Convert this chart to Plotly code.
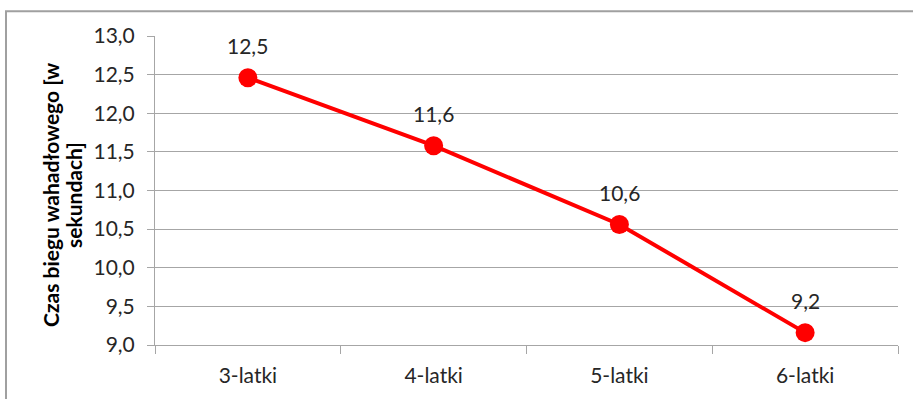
import plotly.graph_objects as go

# Shuttle-run time by age group
age_groups = ["3-latki", "4-latki", "5-latki", "6-latki"]
run_time_s = [12.46, 11.58, 10.56, 9.16]

y_ticks = [9.0, 9.5, 10.0, 10.5, 11.0, 11.5, 12.0, 12.5, 13.0]
y_title_lines = ["Czas biegu wahadłowego [w", "sekundach]"]

W, H = 913, 399
L, R, T, B = 155, 15, 36, 52
plot_w = W - L - R
plot_h = H - T - B

FONT = "Lato, Calibri, Carlito, sans-serif"
FS = 21
GRID = "#a6a6a6"
RED = "#ff0000"
TXT = "#262626"

fig = go.Figure()
fig.add_trace(go.Scatter(
    x=age_groups,
    y=run_time_s,
    mode="lines+markers",
    line=dict(color=RED, width=4),
    marker=dict(color=RED, size=19),
    cliponaxis=False,
    hoverinfo="skip",
))

# Value labels above each point
for cat, val in zip(age_groups, run_time_s):
    fig.add_annotation(
        x=cat, y=val, text=f"{val:.1f}".replace(".", ","),
        showarrow=False, yshift=32, yanchor="middle",
        font=dict(family=FONT, size=FS, color=TXT),
    )

fig.update_layout(
    width=W, height=H,
    margin=dict(l=L, r=R, t=T, b=B, pad=0),
    paper_bgcolor="white",
    plot_bgcolor="white",
    separators=",.",
    showlegend=False,
    font=dict(family=FONT, size=FS, color=TXT),
    xaxis=dict(
        type="category",
        range=[-0.5, 3.5],
        showgrid=False,
        showline=True, linecolor=GRID, linewidth=1,
        ticks="outside", tickson="boundaries", ticklen=8,
        tickcolor=GRID, tickwidth=1,
        ticklabelstandoff=12,
        tickfont=dict(family=FONT, size=FS, color=TXT),
        zeroline=False,
    ),
    yaxis=dict(
        range=[9.0, 13.0],
        tickvals=y_ticks,
        tickformat=".1f",
        showgrid=True, gridcolor=GRID, gridwidth=1,
        showline=True, linecolor=GRID, linewidth=1,
        ticks="outside", ticklen=7, tickcolor=GRID, tickwidth=1,
        ticklabelstandoff=8,
        tickfont=dict(family=FONT, size=FS, color=TXT),
        zeroline=False,
    ),
)

# Rotated two-line axis title, one annotation per line
for line_text, cx in zip(y_title_lines, [51, 74]):
    fig.add_annotation(
        text=line_text,
        textangle=-90,
        xref="paper", yref="paper",
        x=(cx - L) / plot_w, y=(H - B - 196) / plot_h,
        xanchor="center", yanchor="middle",
        showarrow=False,
        font=dict(family=FONT, size=FS, color="#000000", weight="bold"),
    )

# Outer chart frame
fig.add_shape(
    type="rect",
    xref="paper", yref="paper",
    x0=(6 - L) / plot_w, x1=(W + 5 - L) / plot_w,
    y0=(H - B - (H + 5)) / plot_h, y1=(H - B - 11) / plot_h,
    line=dict(color="#a0a0a0", width=2),
    fillcolor="rgba(0,0,0,0)",
    layer="below",
)

fig.write_html("out.html")
